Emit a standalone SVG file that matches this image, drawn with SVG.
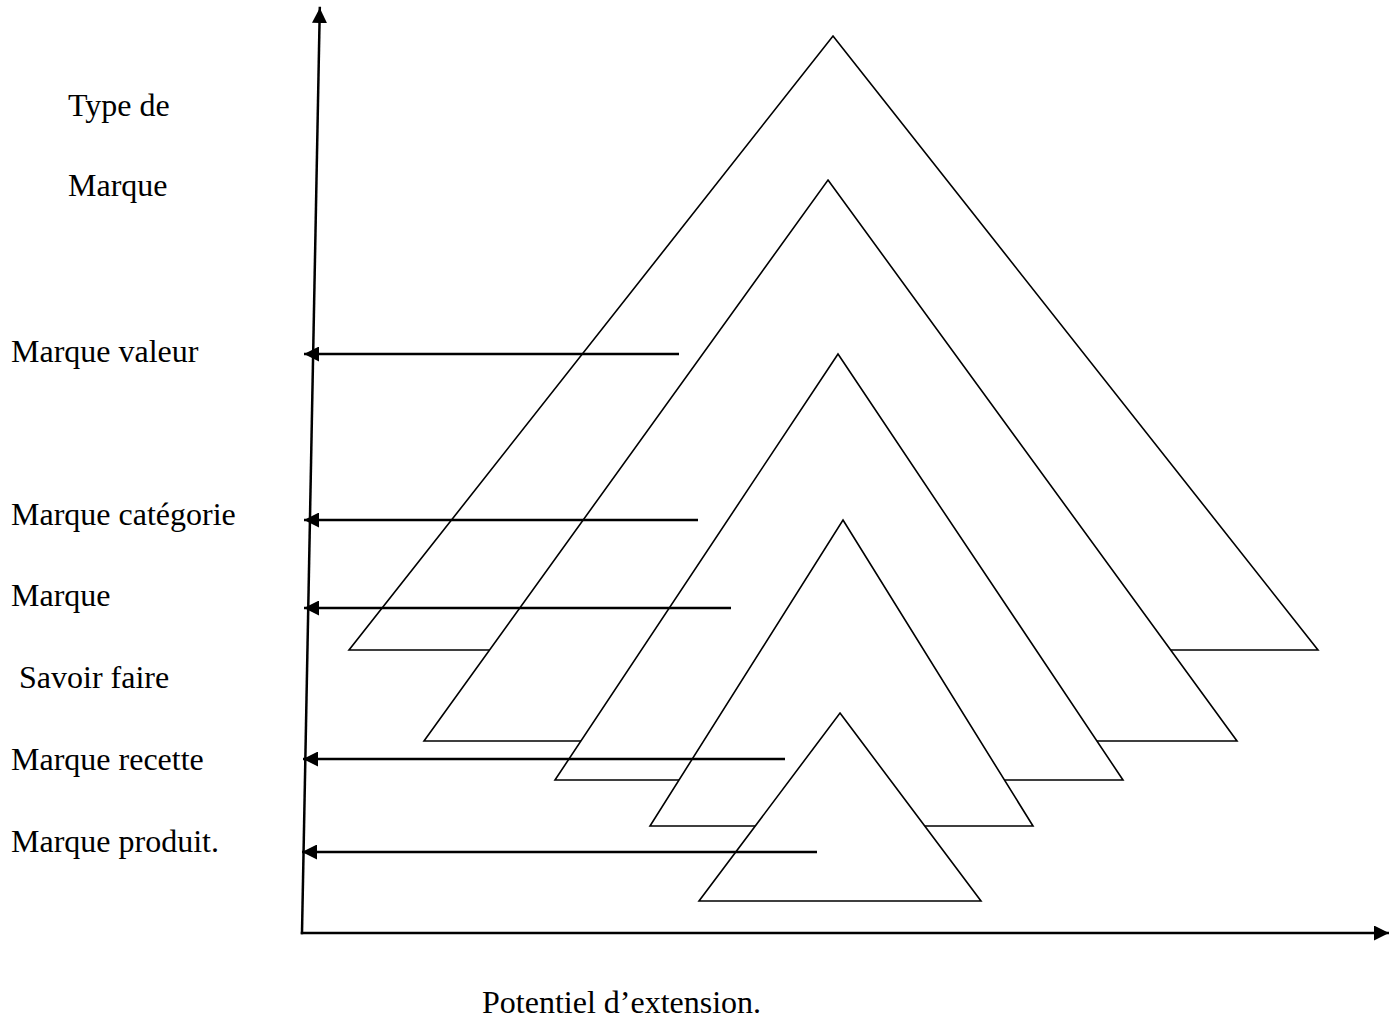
<svg xmlns="http://www.w3.org/2000/svg" width="1389" height="1022" viewBox="0 0 1389 1022">
  <style>
    .tri { fill: #ffffff; stroke: #000000; stroke-width: 1.6; stroke-linejoin: miter; }
    .axis { fill: none; stroke: #000000; stroke-width: 2.5; stroke-linecap: square; }
    .arrow { fill: none; stroke: #000000; stroke-width: 2.5; }
    .lbl { font-family: "Liberation Serif", "Times New Roman", serif; font-size: 32px; fill: #000000; }
  </style>
  <defs>
    <marker id="head" viewBox="0 0 15 15" refX="15" refY="7.5" markerWidth="15" markerHeight="15" markerUnits="userSpaceOnUse" orient="auto">
      <path d="M0,0 L15,7.5 L0,15 Z" fill="#000000"/>
    </marker>
  </defs>
  <rect width="1389" height="1022" fill="#ffffff"/>

  <!-- nested brand triangles, widest at the back -->
  <g id="triangle-1"><polygon class="tri" points="833,36 1318,650 349,650"/></g>
  <g id="triangle-2"><polygon class="tri" points="828,180 1237,741 424,741"/></g>
  <g id="triangle-3"><polygon class="tri" points="838,354 1123,780 555,780"/></g>
  <g id="triangle-4"><polygon class="tri" points="843,520 1033,826 650,826"/></g>
  <g id="triangle-5"><polygon class="tri" points="840,713 981,901 699,901"/></g>

  <!-- axes -->
  <g id="axes">
    <line class="axis" x1="302" y1="933" x2="319.8" y2="8" marker-end="url(#head)"/>
    <line class="axis" x1="302" y1="933" x2="1389" y2="933" marker-end="url(#head)"/>
  </g>

  <!-- connectors pointing from each level to the vertical axis -->
  <g id="connectors">
    <line class="arrow" x1="679" y1="354" x2="304" y2="354" marker-end="url(#head)"/>
    <line class="arrow" x1="698" y1="520" x2="304" y2="520" marker-end="url(#head)"/>
    <line class="arrow" x1="731" y1="608" x2="304" y2="608" marker-end="url(#head)"/>
    <line class="arrow" x1="785" y1="759" x2="303" y2="759" marker-end="url(#head)"/>
    <line class="arrow" x1="817" y1="852" x2="302" y2="852" marker-end="url(#head)"/>
  </g>

  <!-- labels -->
  <g id="labels">
    <text class="lbl" x="68" y="116">Type de</text>
    <text class="lbl" x="68" y="196">Marque</text>
    <text class="lbl" x="11" y="362">Marque valeur</text>
    <text class="lbl" x="11" y="525">Marque catégorie</text>
    <text class="lbl" x="11" y="606">Marque</text>
    <text class="lbl" x="19" y="688">Savoir faire</text>
    <text class="lbl" x="11" y="770">Marque recette</text>
    <text class="lbl" x="11" y="852">Marque produit.</text>
    <text class="lbl" x="482" y="1013">Potentiel d’extension.</text>
  </g>
</svg>
